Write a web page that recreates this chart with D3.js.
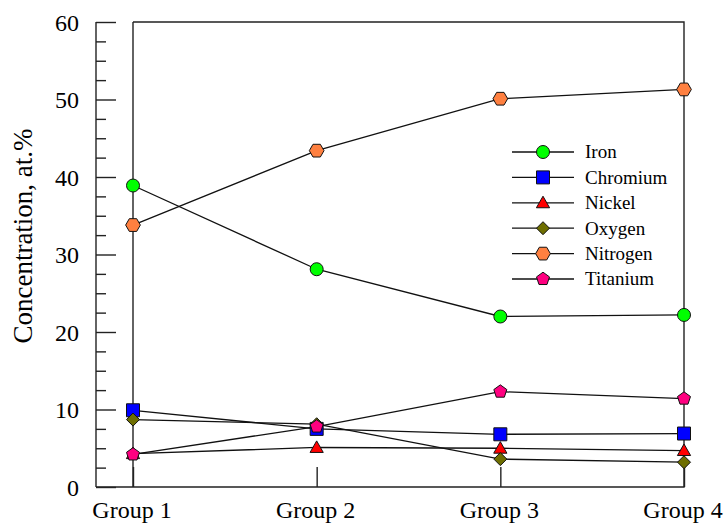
<!DOCTYPE html>
<html><head><meta charset="utf-8">
<script src="https://cdn.jsdelivr.net/npm/d3@7"></script>
<style>body{margin:0;background:#fff}svg{display:block}svg text{font-family:"Liberation Serif","Times New Roman",serif !important;fill:#000}</style>
</head><body><svg id="c" width="726" height="523"></svg>
<script>
const groups = ["Group 1","Group 2","Group 3","Group 4"];
const seriesNames = ["Iron","Chromium","Nickel","Oxygen","Nitrogen","Titanium"];
const iron = [38.9, 28.1, 22.0, 22.2];
const chromium = [9.9, 7.5, 6.8, 6.9];
const nickel = [4.3, 5.1, 5.0, 4.7];
const oxygen = [8.7, 8.1, 3.6, 3.2];
const nitrogen = [33.8, 43.4, 50.1, 51.3];
const titanium = [4.2, 7.8, 12.3, 11.4];
const yTicks = [0,10,20,30,40,50,60];
const colors = ["#00ff00","#0000ff","#ff0000","#6e6e00","#ff8040","#ff0080"];
const shapes = ["circle","square","triangle","diamond","hexagon","pentagon"];
const values = [iron, chromium, nickel, oxygen, nitrogen, titanium];

const svg = d3.select("#c");
const x = d3.scalePoint().domain(groups).range([133, 684]);
const y = d3.scaleLinear().domain([0,60]).range([487, 22]);

const g = svg.append("g");
g.append("path").attr("d", `M${x(groups[0])},${y(60)}H${x(groups[3])}V${y(0)}H96`).attr("fill","none").attr("stroke","#222").attr("stroke-width",1.4);
g.append("line").attr("x1",x(groups[0])).attr("x2",x(groups[0])).attr("y1",y(60)).attr("y2",y(0)).attr("stroke","#222").attr("stroke-width",1.4);
svg.append("g").attr("transform",`translate(0,${y(0)})`)
  .call(d3.axisTop(x).tickSize(20).tickFormat(""))
  .call(s=>{s.select(".domain").remove(); s.selectAll("line").attr("stroke","#222").attr("stroke-width",1.4);});
svg.append("g").selectAll("text").data(groups).join("text")
  .attr("x", d=>x(d)-1).attr("y", 518).attr("text-anchor","middle").attr("font-size",24).text(d=>d);

const yMinor = d3.range(0, 60.1, 2.5).filter(v=>v%10!==0);
svg.append("g").attr("transform","translate(96,0)")
  .call(d3.axisRight(y).tickValues(yMinor).tickSize(10).tickFormat(""))
  .call(s=>{s.select(".domain").remove(); s.selectAll("line").attr("stroke","#222").attr("stroke-width",1.4);});
svg.append("g").attr("transform","translate(96,0)")
  .call(d3.axisRight(y).tickValues(yTicks).tickSize(20).tickFormat(d3.format("d")))
  .call(s=>{s.select(".domain").attr("d",`M0,${y(60)}V${y(0)}`).attr("stroke","#222").attr("stroke-width",1.4);
    s.selectAll("line").attr("stroke","#222").attr("stroke-width",1.4);
    s.selectAll("text").attr("x",-17).attr("dy","0.34em").attr("text-anchor","end").attr("font-size",24).attr("fill","#000");});

svg.append("text").attr("transform","translate(32,236) rotate(-90)").attr("text-anchor","middle").attr("font-size",27).text("Concentration, at.%");

function sym(shape, size){
  const r = size/2;
  if(shape==="circle") return d3.symbol(d3.symbolCircle, Math.PI*r*r)();
  if(shape==="square") return `M${-r},${-r}H${r}V${r}H${-r}Z`;
  if(shape==="triangle"){const h=r*1.1; return `M0,${-h}L${h},${h*0.75}L${-h},${h*0.75}Z`;}
  if(shape==="diamond") return `M0,${-r}L${r},0L0,${r}L${-r},0Z`;
  const n = shape==="hexagon"?6:5; const off = shape==="hexagon"?0:-Math.PI/2;
  const pts = d3.range(n).map(i=>{const a=off+i*2*Math.PI/n; return [r*1.05*Math.cos(a), r*1.05*Math.sin(a)];});
  return "M"+pts.map(p=>p.join(",")).join("L")+"Z";
}
const sizes = [13,13,12,13,14,13];
const line = d3.line().x((d,i)=>x(groups[i])).y(d=>y(d));
values.forEach((vals,k)=>{
  svg.append("path").attr("d",line(vals)).attr("fill","none").attr("stroke","#111").attr("stroke-width",1.3);
});
values.forEach((vals,k)=>{
  svg.append("g").selectAll("path").data(vals).join("path")
    .attr("transform",(d,i)=>`translate(${x(groups[i])},${y(d)})`)
    .attr("d",sym(shapes[k],sizes[k])).attr("fill",colors[k]).attr("stroke","#111").attr("stroke-width",1);
});

const lg = svg.append("g");
seriesNames.forEach((n,k)=>{
  const yy = 152 + k*25.4;
  lg.append("line").attr("x1",512).attr("x2",574).attr("y1",yy).attr("y2",yy).attr("stroke","#111").attr("stroke-width",1.3);
  lg.append("path").attr("transform",`translate(543,${yy})`).attr("d",sym(shapes[k],sizes[k])).attr("fill",colors[k]).attr("stroke","#111").attr("stroke-width",1);
  lg.append("text").attr("x",585).attr("y",yy).attr("dy","0.34em").attr("font-size",19).text(n);
});
</script></body></html>
